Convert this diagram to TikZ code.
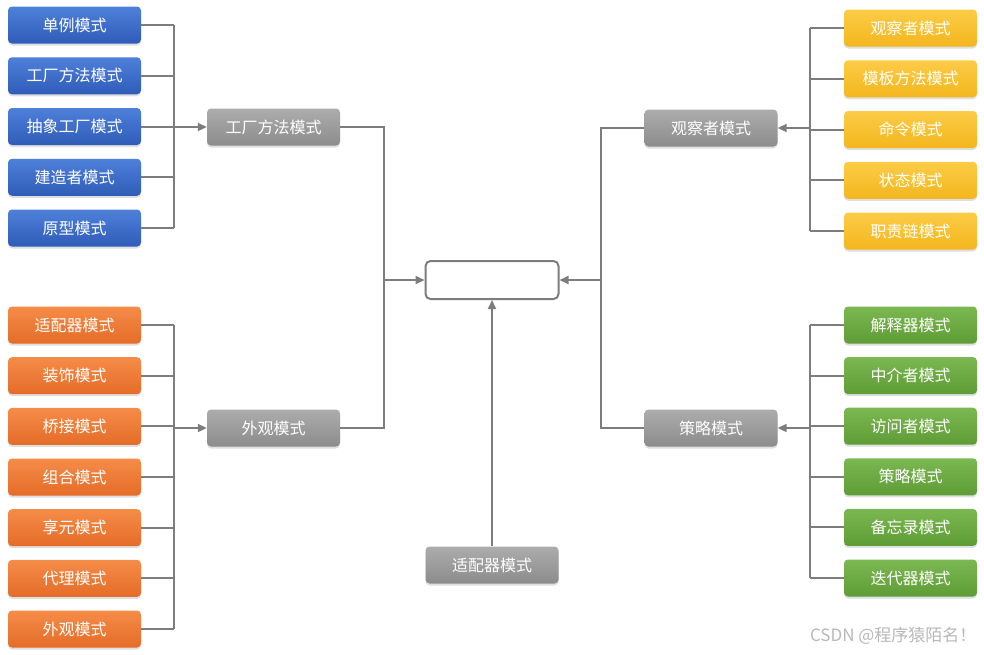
\documentclass[tikz,border=0pt]{standalone}
\usepackage{fontspec}
\setmainfont{Noto Sans CJK SC}
\usetikzlibrary{arrows.meta,shadows}

\definecolor{blueA}{RGB}{78,128,218}
\definecolor{blueB}{RGB}{47,92,184}
\definecolor{orangeA}{RGB}{245,140,72}
\definecolor{orangeB}{RGB}{228,108,40}
\definecolor{yellowA}{RGB}{252,204,70}
\definecolor{yellowB}{RGB}{243,182,30}
\definecolor{greenA}{RGB}{124,184,82}
\definecolor{greenB}{RGB}{94,156,54}
\definecolor{grayA}{RGB}{172,172,172}
\definecolor{grayB}{RGB}{140,140,140}
\definecolor{wirecol}{RGB}{125,125,125}

\begin{document}
\begin{tikzpicture}[x=1pt,y=-1pt,
        box/.style={rounded corners=4pt,minimum width=133pt,minimum height=37pt,
            inner sep=0pt,text=white,font=\fontsize{16}{19}\selectfont,
            drop shadow={shadow xshift=0pt,shadow yshift=-2pt,opacity=0.25}},
        bluebox/.style={box,top color=blueA,bottom color=blueB},
        orangebox/.style={box,top color=orangeA,bottom color=orangeB},
        yellowbox/.style={box,top color=yellowA,bottom color=yellowB},
        greenbox/.style={box,top color=greenA,bottom color=greenB},
        graybox/.style={box,top color=grayA,bottom color=grayB},
        wire/.style={draw=wirecol,line width=2pt},
        tip/.style={-{Triangle[length=9pt,width=8pt]}}]

    \useasboundingbox (0,0) rectangle (984,654);

    % creational patterns
    \foreach \t [count=\i] in {单例模式,工厂方法模式,抽象工厂模式,建造者模式,原型模式}
        \node[bluebox] (b\i) at (74.5,{25+50.75*(\i-1)}) {\t};
    % structural patterns
    \foreach \t [count=\i] in {适配器模式,装饰模式,桥接模式,组合模式,享元模式,代理模式,外观模式}
        \node[orangebox] (o\i) at (74.5,{325+50.67*(\i-1)}) {\t};
    % behavioural patterns
    \foreach \t [count=\i] in {观察者模式,模板方法模式,命令模式,状态模式,职责链模式}
        \node[yellowbox] (y\i) at (910.5,{28+50.75*(\i-1)}) {\t};
    \foreach \t [count=\i] in {解释器模式,中介者模式,访问者模式,策略模式,备忘录模式,迭代器模式}
        \node[greenbox] (g\i) at (910.5,{325+50.6*(\i-1)}) {\t};

    % middle column
    \node[graybox] (fac) at (273.5,127) {工厂方法模式};
    \node[graybox] (fcd) at (273.5,428) {外观模式};
    \node[graybox] (obs) at (711,128) {观察者模式};
    \node[graybox] (str) at (711,428) {策略模式};
    \node[graybox] (adp) at (492,565) {适配器模式};
    \node[draw=wirecol,line width=2pt,rounded corners=5pt,fill=white,
          minimum width=133pt,minimum height=38pt] (core) at (492,280) {};

    % joints
    \coordinate (jb) at (174,127);
    \coordinate (jo) at (174,428);
    \coordinate (jy) at (810,128);
    \coordinate (jg) at (810,428);
    \coordinate (jl) at (384,280);
    \coordinate (jr) at (601,280);

    \foreach \i in {1,...,5} \draw[wire] (b\i.east) -- (b\i.east -| jb);
    \draw[wire] (b1.east -| jb) -- (b5.east -| jb);
    \draw[wire,tip] (jb) -- (fac.west);

    \foreach \i in {1,...,7} \draw[wire] (o\i.east) -- (o\i.east -| jo);
    \draw[wire] (o1.east -| jo) -- (o7.east -| jo);
    \draw[wire,tip] (jo) -- (fcd.west);

    \foreach \i in {1,...,5} \draw[wire] (y\i.west) -- (y\i.west -| jy);
    \draw[wire] (y1.west -| jy) -- (y5.west -| jy);
    \draw[wire,tip] (jy) -- (obs.east);

    \foreach \i in {1,...,6} \draw[wire] (g\i.west) -- (g\i.west -| jg);
    \draw[wire] (g1.west -| jg) -- (g6.west -| jg);
    \draw[wire,tip] (jg) -- (str.east);

    \draw[wire] (fac.east) -| (jl);
    \draw[wire] (fcd.east) -| (jl);
    \draw[wire,tip] (jl) -- (core.west);
    \draw[wire] (obs.west) -| (jr);
    \draw[wire] (str.west) -| (jr);
    \draw[wire,tip] (jr) -- (core.east);
    \draw[wire,tip] (adp.north) -- (core.south);

    \node[text=black!28,font=\fontsize{17}{20}\selectfont,anchor=east] (mark) at (980,636) {CSDN @程序猿陌名！};
\end{tikzpicture}
\end{document}
